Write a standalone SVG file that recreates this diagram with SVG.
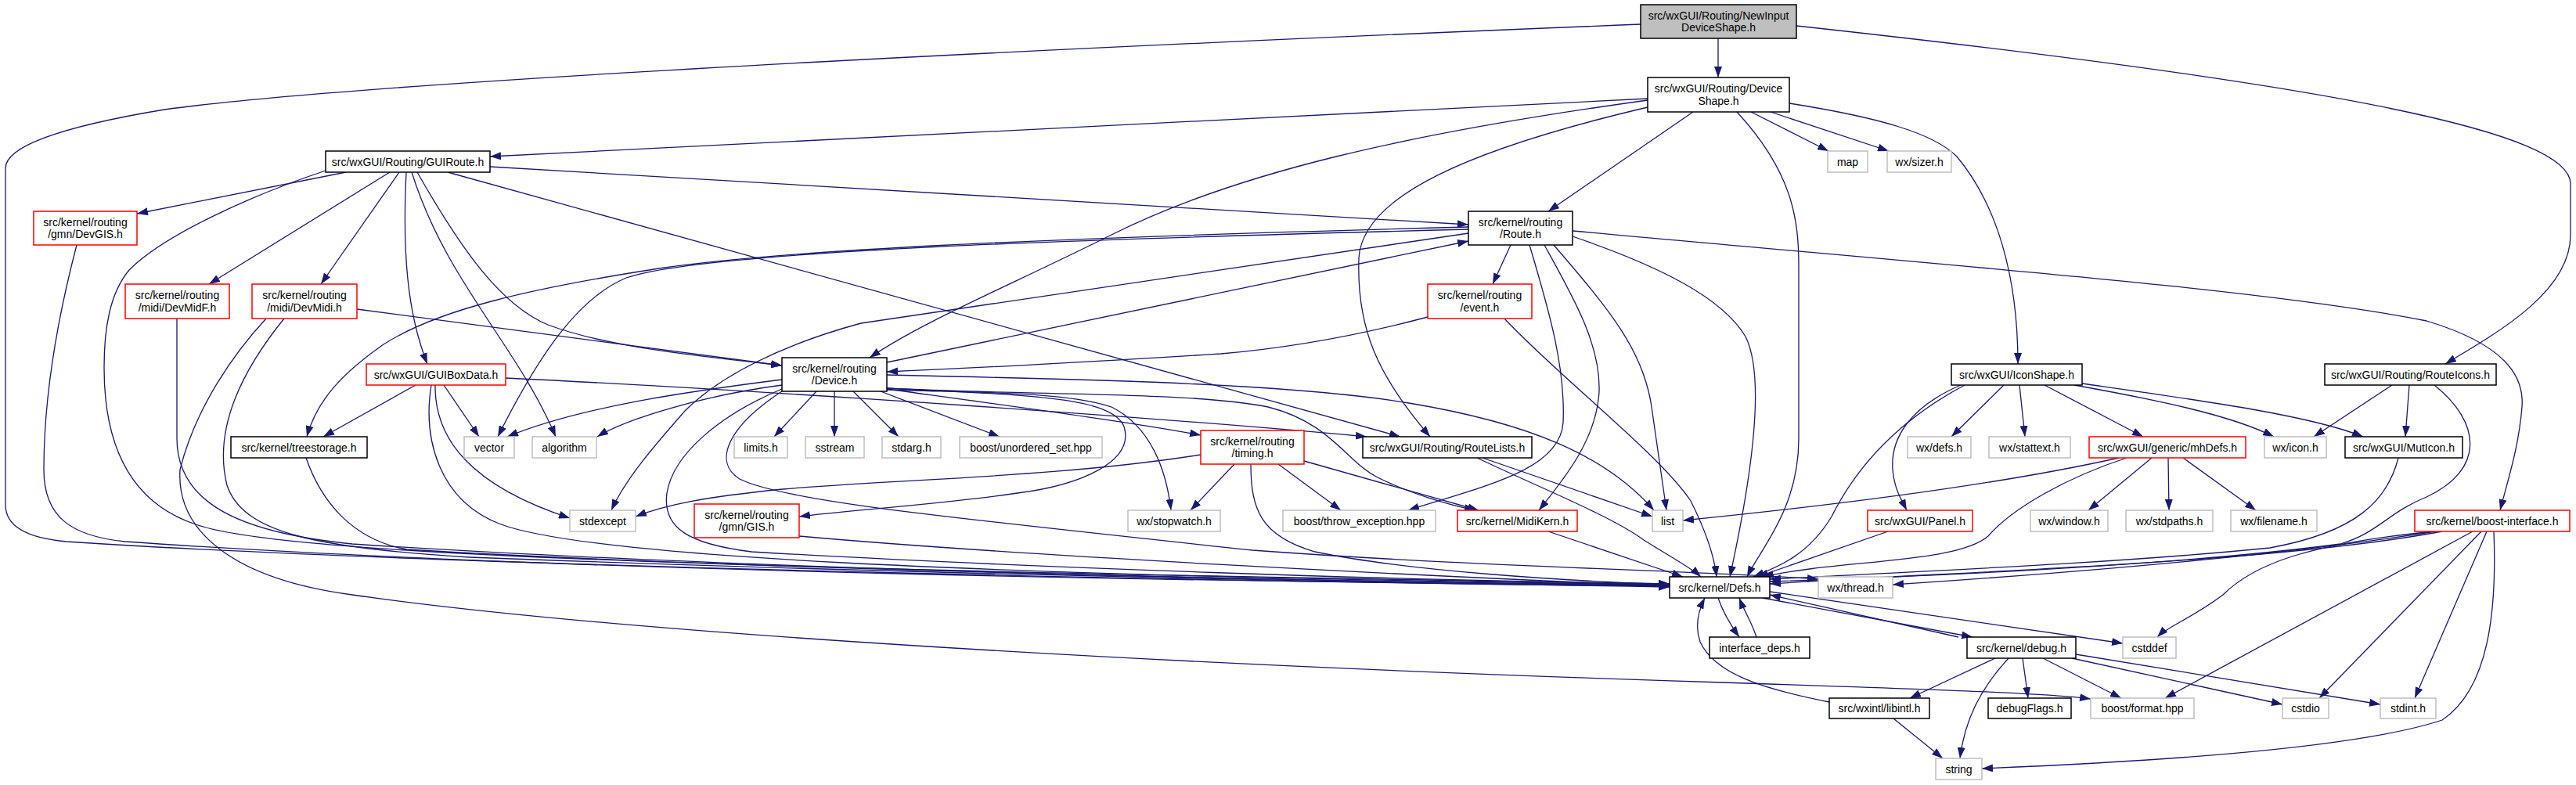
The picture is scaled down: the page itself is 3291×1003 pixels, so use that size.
<svg xmlns="http://www.w3.org/2000/svg" width="3291" height="1003" viewBox="0 0 3291 1003">
<style>
.e{fill:none;stroke:#191970;stroke-width:1.3;marker-end:url(#a)}
.n rect{fill:#fff;stroke-width:1.5}
.k rect{stroke:#000}
.r rect{stroke:#ff0000}
.g rect{stroke:#bfbfbf}
.root rect{fill:#bfbfbf;stroke:#000}
text{font-family:"Liberation Sans",Arial,sans-serif;font-size:14px;fill:#000;text-anchor:middle}
</style>
<defs>
<marker id="a" viewBox="0 0 14 10" refX="14" refY="5" markerWidth="14" markerHeight="10" markerUnits="userSpaceOnUse" orient="auto"><path d="M0,0 L14,5 L0,10 z" fill="#191970"/></marker>
</defs>
<rect width="3291" height="1003" fill="#fff"/>
<g id="edges">
<path class="e" d="M2195,49 L2195,99"/>
<path class="e" d="M2096,31 C1500,55 500,100 210,140 C90,160 7,185 7,215 L7,645 C7,675 40,688 85,692 C600,726 1700,745 2133,749"/>
<path class="e" d="M2295,33 C3000,110 3284,170 3284,235 L3284,300 C3284,370 3200,420 3124,465"/>
<path class="e" d="M2105,126 L626,200"/>
<path class="e" d="M2163,143 L1978,270"/>
<path class="e" d="M2105,128 C1800,170 1580,220 1420,300 C1290,365 1180,410 1111,457"/>
<path class="e" d="M2105,137 C1880,190 1740,250 1736,330 C1733,420 1760,480 1827,558"/>
<path class="e" d="M2219,143 C2290,220 2298,280 2298,340 L2298,560 C2298,650 2250,700 2232,737"/>
<path class="e" d="M2237,143 L2336,193"/>
<path class="e" d="M2262,143 L2413,193"/>
<path class="e" d="M2286,132 C2400,150 2470,170 2500,200 C2550,260 2578,350 2578,465"/>
<path class="e" d="M442,220 L175,273"/>
<path class="e" d="M416,218 C320,250 210,300 165,345 C140,375 133,420 133,470 C133,560 160,640 250,670 C350,705 800,726 2133,746"/>
<path class="e" d="M498,220 L267,363"/>
<path class="e" d="M510,220 L410,363"/>
<path class="e" d="M519,220 C514,320 520,400 546,465"/>
<path class="e" d="M526,220 C570,360 660,440 710,558"/>
<path class="e" d="M533,220 C590,320 640,390 700,415 C780,445 900,455 999,467"/>
<path class="e" d="M572,220 L1789,558"/>
<path class="e" d="M626,213 L1876,287"/>
<path class="e" d="M1876,293 C1400,305 900,320 800,355 C740,380 690,450 636,558"/>
<path class="e" d="M1876,290 C1300,305 1000,320 842,343 C680,368 560,395 490,440 C440,475 405,510 392,558"/>
<path class="e" d="M1876,298 L1100,413 C1000,440 920,480 875,525 C840,565 800,610 781,652"/>
<path class="e" d="M1930,313 L1907,363"/>
<path class="e" d="M1954,313 C1980,400 2000,470 1997,540 C1993,600 1900,620 1799,652"/>
<path class="e" d="M1973,313 C2010,380 2045,440 2043,500 C2040,560 2000,610 1966,652"/>
<path class="e" d="M1985,313 C2060,400 2100,450 2110,520 L2129,652"/>
<path class="e" d="M2009,302 C2120,340 2200,380 2230,430 C2255,480 2240,600 2210,737"/>
<path class="e" d="M2009,295 C2500,340 2900,370 3100,410 C3200,440 3225,480 3222,520 C3218,570 3205,610 3194,652"/>
<path class="e" d="M1824,405 C1730,430 1640,445 1560,452 C1400,462 1250,470 1133,475"/>
<path class="e" d="M1922,407 C1990,480 2120,580 2160,640 C2180,680 2190,710 2193,737"/>
<path class="e" d="M1133,463 L1876,308"/>
<path class="e" d="M1043,500 L989,558"/>
<path class="e" d="M1066,500 L1066,558"/>
<path class="e" d="M1090,500 L1148,558"/>
<path class="e" d="M1125,500 L1277,558"/>
<path class="e" d="M1133,497 C1300,520 1450,540 1534,556"/>
<path class="e" d="M1133,498 C1250,502 1360,500 1420,520 C1470,545 1490,600 1496,652"/>
<path class="e" d="M1133,496 C1300,505 1420,505 1436,545 C1450,590 1380,620 1300,630 C1200,645 1080,652 1021,660"/>
<path class="e" d="M1133,479 C1400,485 1650,490 1800,515 C1950,540 2050,580 2113,652"/>
<path class="e" d="M999,485 C880,500 740,520 648,558"/>
<path class="e" d="M999,492 C900,505 800,535 763,558"/>
<path class="e" d="M999,497 C920,530 860,580 852,630 C846,675 880,695 960,705 C1300,725 1800,742 2133,746"/>
<path class="e" d="M999,500 C930,545 910,590 945,612 C1000,640 1200,660 1600,703 C1900,725 2150,728 2323,740"/>
<path class="e" d="M1133,496 C1300,505 1520,500 1620,520 C1700,540 1720,590 1760,610 C1800,630 1850,645 1885,652"/>
<path class="e" d="M456,395 L999,467"/>
<path class="e" d="M363,407 C320,460 270,540 290,620 C310,680 400,700 600,712 C1200,735 1800,745 2133,750"/>
<path class="e" d="M340,407 C300,450 250,520 230,600 C225,680 300,740 450,760 C800,810 1500,850 2200,872 C2500,882 2620,886 2671,893"/>
<path class="e" d="M226,407 L226,560 C226,640 300,680 450,695 C900,725 1600,742 2133,748"/>
<path class="e" d="M98,313 C70,420 56,520 56,600 C56,660 90,685 160,692 C700,730 1600,745 2133,747"/>
<path class="e" d="M531,492 L413,558"/>
<path class="e" d="M567,492 L612,558"/>
<path class="e" d="M556,492 C555,560 600,620 728,662"/>
<path class="e" d="M551,492 C540,560 560,640 640,670 C750,710 1200,735 2133,747"/>
<path class="e" d="M646,483 C1000,500 1500,535 1746,558"/>
<path class="e" d="M391,585 C410,640 450,690 520,702 C900,725 1700,745 2133,747"/>
<path class="e" d="M1021,685 C1300,710 1800,735 2133,749"/>
<path class="e" d="M1534,581 C1350,610 1150,612 1000,625 C900,635 850,645 812,660"/>
<path class="e" d="M1577,593 L1521,652"/>
<path class="e" d="M1633,593 L1713,652"/>
<path class="e" d="M1666,589 L1889,652"/>
<path class="e" d="M1598,593 C1598,650 1610,685 1680,705 C1800,730 2000,742 2133,747"/>
<path class="e" d="M1978,679 L2150,737"/>
<path class="e" d="M1894,585 L2111,660"/>
<path class="e" d="M1887,585 C1960,620 2060,660 2100,690 C2140,715 2160,725 2173,737"/>
<path class="e" d="M2707,585 C2550,620 2350,645 2150,665"/>
<path class="e" d="M2717,585 C2640,610 2570,650 2540,685 C2500,720 2350,715 2252,737"/>
<path class="e" d="M2749,585 L2668,652"/>
<path class="e" d="M2770,585 L2771,652"/>
<path class="e" d="M2789,585 L2882,652"/>
<path class="e" d="M2510,492 C2420,540 2370,600 2340,660 C2310,710 2270,725 2240,737"/>
<path class="e" d="M2505,492 C2440,520 2415,560 2418,600 C2420,625 2430,640 2436,652"/>
<path class="e" d="M2560,492 L2493,558"/>
<path class="e" d="M2580,492 L2587,558"/>
<path class="e" d="M2612,492 L2738,558"/>
<path class="e" d="M2650,492 C2750,510 2850,530 2905,558"/>
<path class="e" d="M2660,490 C2800,510 2950,530 3019,558"/>
<path class="e" d="M3056,492 L2956,558"/>
<path class="e" d="M3078,492 L3073,558"/>
<path class="e" d="M3110,492 C3170,540 3175,600 3100,635 C3050,655 3040,680 2990,695 C2800,720 2500,735 2261,743"/>
<path class="e" d="M3064,585 C3050,640 3010,680 2900,700 C2700,720 2450,730 2261,740"/>
<path class="e" d="M2412,679 L2245,737"/>
<path class="e" d="M3120,679 C2900,720 2500,730 2261,746"/>
<path class="e" d="M3112,679 C2900,712 2600,735 2418,747"/>
<path class="e" d="M3108,679 C2950,695 2880,720 2840,760 C2800,790 2770,800 2756,814"/>
<path class="e" d="M3159,679 L2766,892"/>
<path class="e" d="M3170,679 L2963,892"/>
<path class="e" d="M3177,679 L3085,892"/>
<path class="e" d="M3186,679 C3190,780 3180,880 3120,920 C3000,960 2700,975 2532,982"/>
<path class="e" d="M2195,764 C2202,785 2212,800 2222,814"/>
<path class="e" d="M2244,814 C2238,795 2228,780 2222,764"/>
<path class="e" d="M2252,764 L2520,814"/>
<path class="e" d="M2502,814 L2261,760"/>
<path class="e" d="M2261,756 L2712,822"/>
<path class="e" d="M2549,841 L2440,892"/>
<path class="e" d="M2566,841 C2530,880 2510,920 2504,969"/>
<path class="e" d="M2584,841 L2591,892"/>
<path class="e" d="M2610,841 L2710,892"/>
<path class="e" d="M2647,841 L2916,900"/>
<path class="e" d="M2652,836 L3041,900"/>
<path class="e" d="M2419,918 L2482,969"/>
<path class="e" d="M2337,897 C2250,880 2190,860 2172,820 C2165,800 2170,780 2178,764"/>
</g>
<g id="n_root" class="n root"><rect x="2096" y="6" width="199" height="43"/><text x="2195.5" y="24.7">src/wxGUI/Routing/NewInput<tspan x="2195.5" dy="15.6">DeviceShape.h</tspan></text></g>
<g id="n_devshape" class="n k"><rect x="2105" y="99" width="181" height="44"/><text x="2195.5" y="118.2">src/wxGUI/Routing/Device<tspan x="2195.5" dy="15.6">Shape.h</tspan></text></g>
<g id="n_guiroute" class="n k"><rect x="416" y="193" width="210" height="27"/><text x="521" y="211.5">src/wxGUI/Routing/GUIRoute.h</text></g>
<g id="n_map" class="n g"><rect x="2335" y="193" width="51" height="27"/><text x="2360.5" y="211.5">map</text></g>
<g id="n_sizer" class="n g"><rect x="2411" y="193" width="82" height="27"/><text x="2452" y="211.5">wx/sizer.h</text></g>
<g id="n_devgis" class="n r"><rect x="43" y="270" width="132" height="43"/><text x="109" y="288.7">src/kernel/routing<tspan x="109" dy="15.6">/gmn/DevGIS.h</tspan></text></g>
<g id="n_route" class="n k"><rect x="1876" y="270" width="133" height="43"/><text x="1942.5" y="288.7">src/kernel/routing<tspan x="1942.5" dy="15.6">/Route.h</tspan></text></g>
<g id="n_devmidf" class="n r"><rect x="160" y="363" width="133" height="44"/><text x="226.5" y="382.2">src/kernel/routing<tspan x="226.5" dy="15.6">/midi/DevMidF.h</tspan></text></g>
<g id="n_devmidi" class="n r"><rect x="322" y="363" width="134" height="44"/><text x="389" y="382.2">src/kernel/routing<tspan x="389" dy="15.6">/midi/DevMidi.h</tspan></text></g>
<g id="n_event" class="n r"><rect x="1824" y="363" width="133" height="44"/><text x="1890.5" y="382.2">src/kernel/routing<tspan x="1890.5" dy="15.6">/event.h</tspan></text></g>
<g id="n_guiboxdata" class="n r"><rect x="468" y="465" width="178" height="27"/><text x="557" y="483.5">src/wxGUI/GUIBoxData.h</text></g>
<g id="n_device" class="n k"><rect x="999" y="457" width="134" height="43"/><text x="1066" y="475.7">src/kernel/routing<tspan x="1066" dy="15.6">/Device.h</tspan></text></g>
<g id="n_iconshape" class="n k"><rect x="2493" y="465" width="167" height="27"/><text x="2576.5" y="483.5">src/wxGUI/IconShape.h</text></g>
<g id="n_routeicons" class="n k"><rect x="2970" y="465" width="219" height="27"/><text x="3079.5" y="483.5">src/wxGUI/Routing/RouteIcons.h</text></g>
<g id="n_treestorage" class="n k"><rect x="295" y="558" width="174" height="27"/><text x="382" y="576.5">src/kernel/treestorage.h</text></g>
<g id="n_vector" class="n g"><rect x="593" y="558" width="64" height="27"/><text x="625" y="576.5">vector</text></g>
<g id="n_algorithm" class="n g"><rect x="680" y="558" width="82" height="27"/><text x="721" y="576.5">algorithm</text></g>
<g id="n_limits" class="n g"><rect x="938" y="558" width="68" height="27"/><text x="972" y="576.5">limits.h</text></g>
<g id="n_sstream" class="n g"><rect x="1029" y="558" width="75" height="27"/><text x="1066.5" y="576.5">sstream</text></g>
<g id="n_stdarg" class="n g"><rect x="1127" y="558" width="75" height="27"/><text x="1164.5" y="576.5">stdarg.h</text></g>
<g id="n_unordered" class="n g"><rect x="1226" y="558" width="182" height="27"/><text x="1317" y="576.5">boost/unordered_set.hpp</text></g>
<g id="n_timing" class="n r"><rect x="1534" y="550" width="132" height="43"/><text x="1600" y="568.7">src/kernel/routing<tspan x="1600" dy="15.6">/timing.h</tspan></text></g>
<g id="n_routelists" class="n k"><rect x="1741" y="558" width="216" height="27"/><text x="1849" y="576.5">src/wxGUI/Routing/RouteLists.h</text></g>
<g id="n_wxdefs" class="n g"><rect x="2437" y="558" width="81" height="27"/><text x="2477.5" y="576.5">wx/defs.h</text></g>
<g id="n_stattext" class="n g"><rect x="2541" y="558" width="104" height="27"/><text x="2593" y="576.5">wx/stattext.h</text></g>
<g id="n_mhdefs" class="n r"><rect x="2669" y="558" width="200" height="27"/><text x="2769" y="576.5">src/wxGUI/generic/mhDefs.h</text></g>
<g id="n_icon" class="n g"><rect x="2893" y="558" width="79" height="27"/><text x="2932.5" y="576.5">wx/icon.h</text></g>
<g id="n_muticon" class="n k"><rect x="2996" y="558" width="150" height="27"/><text x="3071" y="576.5">src/wxGUI/MutIcon.h</text></g>
<g id="n_stdexcept" class="n g"><rect x="728" y="652" width="84" height="27"/><text x="770" y="670.5">stdexcept</text></g>
<g id="n_gis" class="n r"><rect x="887" y="644" width="134" height="43"/><text x="954" y="662.7">src/kernel/routing<tspan x="954" dy="15.6">/gmn/GIS.h</tspan></text></g>
<g id="n_stopwatch" class="n g"><rect x="1441" y="652" width="118" height="27"/><text x="1500" y="670.5">wx/stopwatch.h</text></g>
<g id="n_throw" class="n g"><rect x="1639" y="652" width="195" height="27"/><text x="1736.5" y="670.5">boost/throw_exception.hpp</text></g>
<g id="n_midikern" class="n r"><rect x="1862" y="652" width="153" height="27"/><text x="1938.5" y="670.5">src/kernel/MidiKern.h</text></g>
<g id="n_list" class="n g"><rect x="2111" y="652" width="39" height="27"/><text x="2130.5" y="670.5">list</text></g>
<g id="n_panel" class="n r"><rect x="2386" y="652" width="134" height="27"/><text x="2453" y="670.5">src/wxGUI/Panel.h</text></g>
<g id="n_window" class="n g"><rect x="2594" y="652" width="99" height="27"/><text x="2643.5" y="670.5">wx/window.h</text></g>
<g id="n_stdpaths" class="n g"><rect x="2716" y="652" width="111" height="27"/><text x="2771.5" y="670.5">wx/stdpaths.h</text></g>
<g id="n_filename" class="n g"><rect x="2850" y="652" width="110" height="27"/><text x="2905" y="670.5">wx/filename.h</text></g>
<g id="n_boostif" class="n r"><rect x="3085" y="652" width="198" height="27"/><text x="3184" y="670.5">src/kernel/boost-interface.h</text></g>
<g id="n_defs" class="n k"><rect x="2133" y="737" width="128" height="27"/><text x="2197" y="755.5">src/kernel/Defs.h</text></g>
<g id="n_thread" class="n g"><rect x="2323" y="737" width="95" height="27"/><text x="2370.5" y="755.5">wx/thread.h</text></g>
<g id="n_ifdeps" class="n k"><rect x="2184" y="814" width="128" height="27"/><text x="2248" y="832.5">interface_deps.h</text></g>
<g id="n_debug" class="n k"><rect x="2513" y="814" width="139" height="27"/><text x="2582.5" y="832.5">src/kernel/debug.h</text></g>
<g id="n_cstddef" class="n g"><rect x="2712" y="814" width="68" height="27"/><text x="2746" y="832.5">cstddef</text></g>
<g id="n_libintl" class="n k"><rect x="2337" y="892" width="128" height="26"/><text x="2401" y="910">src/wxintl/libintl.h</text></g>
<g id="n_debugflags" class="n k"><rect x="2540" y="892" width="106" height="26"/><text x="2593" y="910">debugFlags.h</text></g>
<g id="n_format" class="n g"><rect x="2671" y="892" width="132" height="26"/><text x="2737" y="910">boost/format.hpp</text></g>
<g id="n_cstdio" class="n g"><rect x="2916" y="892" width="59" height="26"/><text x="2945.5" y="910">cstdio</text></g>
<g id="n_stdint" class="n g"><rect x="3041" y="892" width="71" height="26"/><text x="3076.5" y="910">stdint.h</text></g>
<g id="n_string" class="n g"><rect x="2473" y="969" width="59" height="27"/><text x="2502.5" y="987.5">string</text></g>
</svg>
